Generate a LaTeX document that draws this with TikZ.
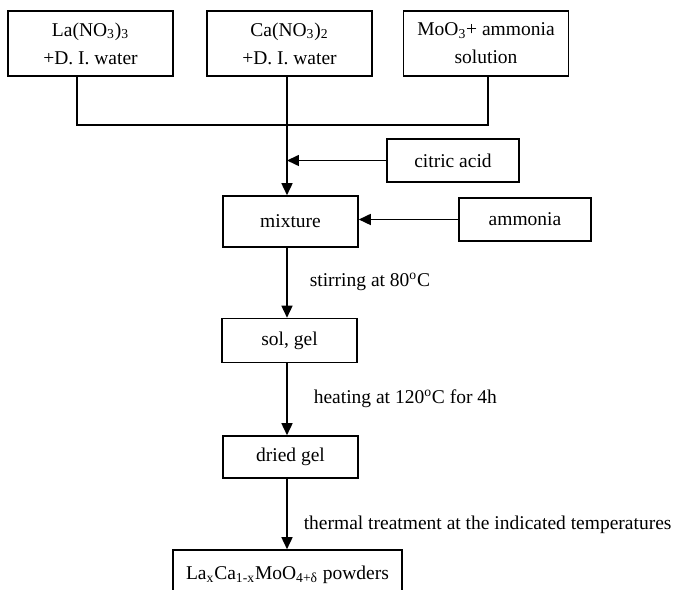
\documentclass[tikz,border=0pt]{standalone}
\usepackage{fontspec}
\setmainfont{Liberation Serif}
\usepackage{tikz}
\usetikzlibrary{positioning,arrows.meta}

\begin{document}
\begin{tikzpicture}[x=0.02cm,y=-0.02cm,line width=0.9pt,
  font=\fontsize{11.1}{16}\selectfont,
  >={Triangle[length=0.24cm,width=0.22cm]}]
  \tikzstyle{box}=[rectangle, draw, inner sep=0pt, align=center, minimum width=2.7cm, minimum height=0.88cm]
  \tikzstyle{source}=[box, minimum width=3.3cm, minimum height=1.3cm]
  \tikzstyle{additive}=[box, minimum width=2.64cm, minimum height=0.86cm]
  \tikzstyle{step label}=[anchor=west, inner sep=0pt]
  \useasboundingbox (0,0) rectangle (674,590);
  \node[source] (S_1) at (90.5,43.5) {La(NO\textsubscript{3})\textsubscript{3}\\+D. I. water};
  \node[source] (S_2) at (289.5,43.5) {Ca(NO\textsubscript{3})\textsubscript{2}\\+D. I. water};
  \node[source] (S_3) at (486,43.5) {MoO\textsubscript{3}+ ammonia\\solution};
  \node[additive] (A_1) at (453,160.5) {citric acid};
  \node[additive] (A_2) at (525,219.5) {ammonia};
  \node[box, minimum height=1.02cm] (P_1) at (290.5,221.5) {mixture};
  \node[box] (P_2) at (289.5,340.5) {sol, gel};
  \node[box, minimum height=0.84cm] (P_3) at (290.5,457) {dried gel};
  \node[box, minimum width=4.58cm, minimum height=1cm] (P_4) at (287.5,575) {La\textsubscript{x}Ca\textsubscript{1-x}MoO\textsubscript{4+δ} powders};
  \coordinate (J_1) at (77,125);
  \coordinate (J_2) at (287,125);
  \coordinate (J_3) at (488,125);
  \draw (J_1 |- S_1.south) -- (J_1) -- (J_3) -- (J_3 |- S_3.south);
  \draw[->] (S_2.south -| J_2) -- (P_1.north -| J_2);
  \draw[->] (A_1.west) -- (A_1.west -| J_2);
  \draw[->] (A_2.west) -- (A_2.west -| P_1.east);
  \draw[->] (P_1.south -| J_2) -- (P_2.north -| J_2) node[step label] at (309,282) {stirring at 80\textsuperscript{o}C};
  \draw[->] (P_2.south -| J_2) -- (P_3.north -| J_2) node[step label] at (313,399) {heating at 120\textsuperscript{o}C for 4h};
  \draw[->] (P_3.south -| J_2) -- (P_4.north -| J_2) node[step label] at (303,525) {thermal treatment at the indicated temperatures};
\end{tikzpicture}
\end{document}
